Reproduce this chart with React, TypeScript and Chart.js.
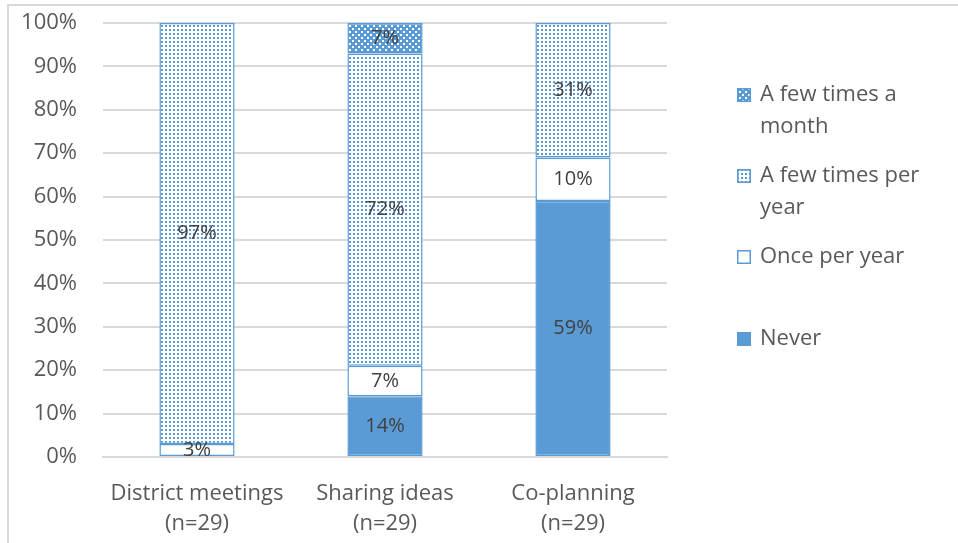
import React, { useEffect, useRef } from "react";
import { Chart, registerables } from "chart.js";

Chart.register(...registerables);

const categories: string[][] = [
  ["District meetings", "(n=29)"],
  ["Sharing ideas", "(n=29)"],
  ["Co-planning", "(n=29)"],
];
const never = [0, 14, 59];
const oncePerYear = [3, 7, 10];
const fewPerYear = [97, 72, 31];
const fewPerMonth = [0, 7, 0];
const yTicks = [0, 10, 20, 30, 40, 50, 60, 70, 80, 90, 100];

const BLUE = "#5B9BD5";
const TEXT = "#595959";
const FONT = "'Open Sans', sans-serif";

function makePattern(kind: "month" | "year"): CanvasPattern {
  const c = document.createElement("canvas");
  if (kind === "month") {
    c.width = 6;
    c.height = 6;
    const x = c.getContext("2d")!;
    x.fillStyle = BLUE;
    x.fillRect(0, 0, 6, 6);
    x.fillStyle = "#ffffff";
    x.fillRect(1, 1, 2, 2);
    x.fillRect(4, 4, 2, 2);
  } else {
    c.width = 4;
    c.height = 4;
    const x = c.getContext("2d")!;
    x.fillStyle = "#ffffff";
    x.fillRect(0, 0, 4, 4);
    x.fillStyle = BLUE;
    x.fillRect(1, 1, 2, 2);
  }
  return c.getContext("2d")!.createPattern(c, "repeat")!;
}

export default function App() {
  const ref = useRef<HTMLCanvasElement>(null);
  useEffect(() => {
    const monthP = makePattern("month");
    const yearP = makePattern("year");

    const legendItems = [
      { lines: ["A few times a", "month"], fill: monthP as any, y: 95 },
      { lines: ["A few times per", "year"], fill: yearP as any, y: 176 },
      { lines: ["Once per year"], fill: "#ffffff", y: 257 },
      { lines: ["Never"], fill: BLUE, y: 339 },
    ];

    const framePlugin = {
      id: "frame",
      beforeDraw(chart: any) {
        const ctx = chart.ctx;
        ctx.save();
        ctx.strokeStyle = "#D9D9D9";
        ctx.lineWidth = 2;
        ctx.beginPath();
        ctx.moveTo(8, 543);
        ctx.lineTo(8, 5);
        ctx.lineTo(958, 5);
        ctx.stroke();
        ctx.restore();
      },
      afterDraw(chart: any) {
        const ctx = chart.ctx;
        ctx.save();
        ctx.font = `22px ${FONT}`;
        ctx.textBaseline = "middle";
        ctx.textAlign = "left";
        for (const it of legendItems) {
          const bx = 737, by = it.y - 7;
          ctx.fillStyle = it.fill;
          ctx.fillRect(bx, by, 14, 14);
          ctx.strokeStyle = BLUE;
          ctx.lineWidth = 1.5;
          ctx.strokeRect(bx + 0.75, by + 0.75, 12.5, 12.5);
          ctx.fillStyle = TEXT;
          it.lines.forEach((l, i) => ctx.fillText(l, 760, it.y + i * 32));
        }
        ctx.restore();
      },
      afterDatasetsDraw(chart: any) {
        const ctx = chart.ctx;
        ctx.save();
        ctx.font = `20px ${FONT}`;
        ctx.fillStyle = "#404040";
        ctx.textAlign = "center";
        ctx.textBaseline = "middle";
        chart.data.datasets.forEach((ds: any, di: number) => {
          const meta = chart.getDatasetMeta(di);
          meta.data.forEach((bar: any, i: number) => {
            const v = ds.data[i];
            if (!v) return;
            ctx.fillText(v + "%", bar.x, (bar.y + bar.base) / 2);
          });
        });
        ctx.restore();
      },
    };

    const common = { borderColor: BLUE, borderWidth: 1.5, borderSkipped: false };
    const chart = new Chart(ref.current!, {
      type: "bar",
      data: {
        labels: categories,
        datasets: [
          { label: "Never", data: never, backgroundColor: BLUE, ...common },
          { label: "Once per year", data: oncePerYear, backgroundColor: "#ffffff", ...common },
          { label: "A few times per year", data: fewPerYear, backgroundColor: yearP as any, ...common },
          { label: "A few times a month", data: fewPerMonth, backgroundColor: monthP as any, ...common },
        ],
      },
      options: {
        animation: false,
        responsive: true,
        maintainAspectRatio: false,
        layout: { padding: { left: 10, top: 23, right: 291, bottom: 0 } },
        plugins: { legend: { display: false }, tooltip: { enabled: false } },
        datasets: { bar: { categoryPercentage: 1, barPercentage: 0.4 } },
        scales: {
          x: {
            stacked: true,
            grid: { display: false, drawTicks: false },
            border: { color: "#D9D9D9", width: 2 },
            ticks: { color: TEXT, font: { family: FONT, size: 22, lineHeight: 1.4 }, padding: 21, maxRotation: 0 },
            afterFit: (s: any) => { s.height = 86; s.paddingTop = 0; s.paddingBottom = 0; },
          },
          y: {
            stacked: true,
            min: 0,
            max: 100,
            grid: { color: "#D9D9D9", lineWidth: 2, drawTicks: false },
            border: { display: false },
            afterBuildTicks: (s: any) => { s.ticks = yTicks.map((v) => ({ value: v })); },
            ticks: { color: TEXT, font: { family: FONT, size: 22 }, padding: 26, callback: (v: any) => v + "%" },
            afterFit: (s: any) => { s.width = 93; s.paddingTop = 0; s.paddingBottom = 0; },
          },
        },
      },
      plugins: [framePlugin],
    });
    return () => chart.destroy();
  }, []);
  return (
    <div style={{ position: "fixed", left: 0, top: 0, width: 958, height: 543, background: "#fff" }}>
      <canvas ref={ref} />
    </div>
  );
}
